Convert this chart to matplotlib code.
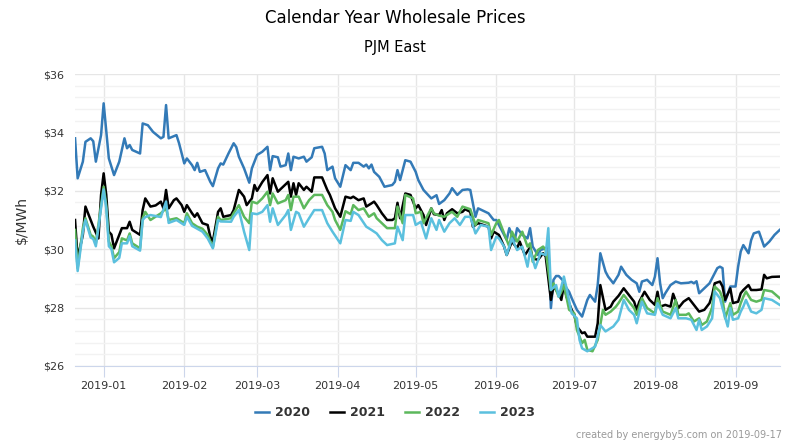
import pandas as pd
import matplotlib
matplotlib.use("Agg")
import matplotlib.pyplot as plt
import matplotlib.dates as mdates
from matplotlib.ticker import MultipleLocator, FuncFormatter

# forward prices; days counted from 2019-01-01
base_date = "2019-01-01"

days_2020 = [-11, -10, -8, -7, -5, -4, -3, -1, 0, 2, 3, 4, 6, 8, 9, 10, 11, 14, 15, 17, 19, 22, 23, 24, 25,
             28, 29, 30, 31, 32, 34, 35, 36, 37, 39, 41, 42, 44, 45, 46, 48, 50, 51, 52, 54, 56, 57, 59, 61,
             63, 64, 65, 67, 68, 70, 71, 72, 73, 75, 77, 78, 80, 81, 84, 85, 86, 88, 89, 91, 93, 95, 96, 98,
             100, 101, 102, 103, 104, 106, 108, 111, 112, 113, 114, 116, 118, 120, 121, 123, 126, 128, 129,
             131, 133, 134, 136, 138, 140, 141, 143, 144, 148, 150, 151, 154, 155, 156, 158, 159, 161, 163,
             164, 165, 167, 168, 170, 171, 172, 173, 174, 175, 177, 178, 179, 180, 182, 184, 186, 187, 189,
             190, 191, 193, 194, 196, 198, 199, 201, 203, 205, 206, 207, 209, 211, 212, 213, 214, 215, 216,
             218, 220, 222, 225, 226, 227, 228, 229, 231, 233, 236, 237, 238, 239, 241, 243, 244, 245, 246,
             248, 249, 250, 252, 254, 256, 258, 260]
price_2020 = [33.80, 32.43, 33.0, 33.68, 33.80, 33.7, 33.0, 33.91, 35.0, 33.11, 32.83, 32.54, 33.0, 33.8,
              33.46, 33.57, 33.4, 33.28, 34.31, 34.25, 34.02, 33.8, 33.85, 34.94, 33.8,
              33.91, 33.63, 33.28, 32.94, 33.11, 32.88, 32.71, 32.96, 32.65, 32.71, 32.31, 32.16, 32.77,
              32.94, 32.9, 33.28, 33.63, 33.5, 33.17, 32.77, 32.28, 32.77, 33.23, 33.34,
              33.51, 32.71, 33.19, 33.15, 32.83, 32.88, 33.28, 32.71, 33.17, 33.11, 33.17, 33.0, 33.15,
              33.46, 33.51, 33.28, 32.71, 32.83, 32.43, 32.14, 32.88, 32.71, 32.96, 32.96,
              32.83, 32.9, 32.77, 32.9, 32.65, 32.48, 32.14, 32.2, 32.31, 32.71, 32.37, 33.05, 33.0, 32.65,
              32.37, 32.03, 31.74, 31.85, 31.55,
              31.68, 31.91, 32.09, 31.86, 32.03, 32.05, 32.03, 31.11, 31.4, 31.23, 31.0, 31.0, 30.49, 30.32,
              30.72, 30.26, 30.72, 30.49, 30.37,
              30.72, 30.09, 29.8, 29.97, 30.03, 30.1, 27.98, 28.95, 29.08, 29.08, 28.89, 28.66, 28.54, 28.32,
              27.92, 27.69, 28.26, 28.43, 28.2,
              28.77, 29.86, 29.23, 29.06, 28.83, 29.12, 29.4, 29.12, 28.95, 28.83, 28.54, 28.89, 28.95, 28.77,
              29.06, 29.69, 28.83, 28.32, 28.49,
              28.77, 28.89, 28.83, 28.85, 28.88, 28.83, 28.9, 28.49, 28.66, 28.83, 29.35, 29.4, 29.35, 28.2,
              28.72, 28.72, 29.4, 29.92, 30.14,
              29.86, 30.31, 30.54, 30.6, 30.09, 30.26, 30.49, 30.66]

days_2021 = [-11, -10, -8, -7, -5, -4, -2, -1, 0, 1, 2, 3, 4, 6, 7, 9, 10, 11, 14, 15, 16, 18, 20, 22, 23, 24,
             25, 27, 28, 30, 31, 32, 34, 35, 36, 38, 40, 41, 42, 44, 45, 46, 49, 50, 52, 54, 55, 57, 58, 59,
             61, 63, 64, 65, 67, 69, 71, 72, 73, 74, 75, 77, 78, 80, 81, 84, 86, 87, 88, 89, 91, 93, 95, 96,
             98, 100, 101, 103, 104, 105, 107, 109, 111, 112, 113, 114, 116, 118, 120, 121, 123, 124, 126,
             127, 129, 130, 131, 132, 134, 136, 138, 139, 141, 142, 144, 148, 149, 150, 152, 154, 155, 157,
             159, 160, 162, 164, 165, 167, 169, 170, 172, 173, 174, 175, 176, 177, 178, 180, 181, 182, 184,
             185, 186, 189, 190, 191, 193, 195, 196, 198, 200, 202, 204, 205, 206, 208, 210, 212, 213, 214,
             216, 218, 219, 221, 223, 225, 227, 229, 231, 233, 234, 235, 237, 238, 239, 241, 242, 244, 245,
             246, 248, 249, 251, 253, 254, 255, 257, 260]
price_2021 = [31.0, 29.69, 30.49, 31.46, 31.0, 30.77, 30.37, 31.86, 32.6, 31.86, 30.6, 30.5, 30.03, 30.49,
              30.72, 30.72, 30.94, 30.66, 30.49, 31.34, 31.74, 31.46, 31.5, 31.63, 31.4, 32.03,
              31.4, 31.68, 31.74, 31.51, 31.28, 31.51, 31.23, 31.11, 31.23, 30.89, 30.83, 30.43, 30.26,
              31.28, 31.4, 31.11, 31.17, 31.34, 32.03, 31.8, 31.51, 31.74, 32.2, 32.0,
              32.3, 32.54, 31.91, 32.43, 31.97, 32.14, 32.31, 31.8, 32.26, 31.86, 32.26, 32.03, 32.14, 31.97,
              32.46, 32.46, 32.03, 31.86, 31.63, 31.4, 31.11, 31.8, 31.75, 31.8,
              31.68, 31.74, 31.46, 31.57, 31.63, 31.51, 31.23, 31.0, 31.0, 31.06, 31.59, 31.06, 31.91, 31.86,
              31.4, 31.51, 31.17, 30.83, 31.4,
              31.2, 31.17, 31.34, 31.0, 31.23, 31.37, 31.23, 31.28, 31.37, 31.28, 30.77, 30.89, 30.77, 30.37,
              30.6, 30.49, 30.09, 29.8, 30.26,
              30.03, 30.26, 29.8, 30.06, 29.69, 29.63, 29.86, 29.75, 28.26, 28.72, 28.6, 28.49, 28.26, 28.77,
              28.37, 27.92, 27.75, 27.35, 27.12,
              27.15, 27.0, 27.0, 27.46, 28.77, 27.92, 28.03, 28.2, 28.4, 28.66, 28.43, 28.2, 27.92, 28.2,
              28.54, 28.26, 28.09, 28.54, 28.03,
              28.09, 28.03, 28.47, 27.98, 28.2, 28.32, 28.09, 27.86, 27.92, 28.15, 28.43, 28.83, 28.89, 28.72,
              28.26, 28.66, 28.15, 28.2, 28.49,
              28.6, 28.77, 28.6, 28.6, 28.62, 29.12, 29.0, 29.05, 29.06]

days_2022 = [-11, -10, -8, -7, -5, -4, -3, -1, 0, 1, 2, 3, 4, 6, 7, 9, 10, 11, 14, 15, 16, 18, 22, 24, 25,
             28, 31, 32, 34, 36, 38, 40, 42, 44, 45, 49, 50, 52, 54, 56, 57, 59, 61, 63, 64, 65, 67, 70, 71,
             72, 73, 75, 77, 79, 81, 84, 86, 88, 89, 91, 93, 95, 96, 98, 100, 102, 104, 105, 107, 109, 112,
             113, 115, 116, 119, 120, 122, 123, 126, 127, 129, 131, 133, 134, 136, 138, 140, 141, 143, 144,
             148, 149, 151, 152, 154, 156, 157, 159, 161, 163, 164, 165, 167, 169, 170, 172, 173, 175, 176,
             177, 179, 181, 182, 184, 185, 186, 188, 190, 192, 193, 195, 197, 198, 200, 202, 204, 205, 207,
             209, 212, 213, 215, 218, 220, 221, 224, 225, 227, 229, 230, 232, 234, 235, 237, 238, 239, 241,
             242, 244, 245, 246, 247, 249, 251, 253, 254, 257, 260]
price_2022 = [30.66, 29.35, 30.72, 31.06, 30.49, 30.43, 30.2, 31.51, 32.14, 31.51, 30.26, 30.1, 29.69, 29.9,
              30.37, 30.3, 30.54, 30.2, 30.03, 31.06, 31.28, 31.0, 31.23, 31.4, 31.0,
              31.06, 30.89, 31.23, 30.89, 30.77, 30.7, 30.49, 30.06, 31.11, 31.0, 31.06, 31.23, 31.51, 31.11,
              30.89, 31.63, 31.57, 31.74, 31.97, 31.51, 31.91, 31.57, 31.68, 31.86,
              31.34, 31.8, 31.8, 31.4, 31.68, 31.86, 31.86, 31.51, 31.28, 31.0, 30.66, 31.3, 31.2, 31.51,
              31.34, 31.4, 31.11, 31.23, 31.06, 30.89, 30.72, 30.72,
              31.46, 30.89, 31.86, 31.74, 31.23, 31.28, 30.89, 31.4, 31.23, 31.15, 31.11, 31.23, 31.28, 31.11,
              31.46, 31.4, 31.37, 30.83, 31.0,
              30.89, 30.49, 30.89, 31.0, 30.54, 30.09, 30.6, 30.26, 30.6, 30.09, 30.2, 29.57, 29.97, 30.09,
              29.97, 28.6, 28.83, 28.37, 28.54,
              28.77, 27.92, 27.8, 27.23, 26.78, 26.89, 26.55, 26.5, 26.89, 27.92, 27.75, 27.86, 28.03, 28.15,
              28.43, 28.2, 27.98, 27.75, 28.32,
              27.98, 27.8, 28.32, 27.86, 27.75, 28.26, 27.75, 27.75, 27.8, 27.52, 27.63, 27.4, 27.52, 28.0,
              28.72, 28.55, 28.32, 27.63, 28.15,
              27.75, 27.86, 28.15, 28.37, 28.55, 28.26, 28.2, 28.26, 28.6, 28.55, 28.32]

days_2023 = [-11, -10, -8, -7, -5, -4, -3, -1, 0, 1, 2, 3, 4, 6, 7, 9, 10, 11, 14, 15, 16, 18, 22, 24, 25,
             28, 31, 32, 34, 36, 38, 40, 42, 44, 45, 49, 50, 52, 54, 56, 57, 59, 61, 63, 64, 65, 67, 70, 71,
             72, 74, 75, 77, 79, 81, 84, 86, 88, 91, 93, 95, 96, 98, 101, 103, 105, 107, 109, 112, 113, 115,
             116, 119, 120, 122, 124, 126, 128, 129, 131, 133, 135, 137, 139, 141, 143, 145, 148, 149, 151,
             152, 154, 155, 157, 159, 161, 163, 164, 166, 168, 170, 171, 172, 174, 175, 177, 178, 180, 182,
             183, 184, 186, 189, 191, 193, 196, 198, 200, 202, 204, 205, 207, 209, 212, 213, 215, 218, 220,
             221, 224, 226, 228, 229, 230, 232, 234, 235, 237, 238, 240, 241, 242, 244, 245, 246, 247, 249,
             251, 253, 254, 257, 260]
price_2023 = [30.3, 29.25, 30.6, 31.0, 30.4, 30.35, 30.1, 31.4, 32.05, 31.4, 30.1, 30.0, 29.55, 29.7, 30.2,
              30.2, 30.45, 30.1, 29.95, 31.0, 31.1, 31.17, 31.1, 31.63, 30.9,
              31.0, 30.83, 31.11, 30.8, 30.7, 30.6, 30.37, 30.03, 31.0, 30.95, 30.94, 31.11, 31.34, 30.6,
              29.97, 31.23, 31.2, 31.28, 31.51, 30.94, 31.4, 30.83, 31.17, 31.34,
              30.66, 31.28, 31.23, 30.77, 31.06, 31.34, 31.34, 30.89, 30.6, 30.2, 31.0, 30.97, 31.28, 31.17,
              30.77, 30.66, 30.54, 30.31, 30.14, 30.2, 30.77, 30.31,
              31.17, 31.17, 30.83, 30.94, 30.37, 31.06, 30.66, 31.0, 30.6, 30.89, 31.06, 30.83, 31.11, 31.11,
              30.54, 30.83, 30.77, 29.97, 30.43,
              30.37, 30.09, 29.8, 30.37, 29.97, 30.09, 29.4, 29.95, 29.35, 29.86, 29.8, 30.72, 28.6, 28.77,
              28.37, 29.06, 28.66, 27.8, 27.63,
              26.89, 26.6, 26.5, 26.66, 27.4, 27.18, 27.35, 27.58, 28.26, 27.92, 27.75, 27.46, 28.2, 27.8,
              27.75, 28.15, 27.75, 27.63, 27.98,
              27.63, 27.63, 27.58, 27.23, 27.58, 27.23, 27.35, 27.63, 28.55, 28.32, 27.98, 27.35, 27.98, 27.58,
              27.63, 27.86, 28.03, 28.26, 27.86,
              27.8, 27.92, 28.32, 28.26, 28.09]

series_names = ["2020", "2021", "2022", "2023"]
series_colors = ["#337ab7", "#000000", "#5cb85c", "#5bc0de"]
all_days = [days_2020, days_2021, days_2022, days_2023]
all_prices = [price_2020, price_2021, price_2022, price_2023]


def to_dates(days):
    return pd.Timestamp(base_date) + pd.to_timedelta(days, unit="D")


fig = plt.figure(figsize=(7.9, 4.44), dpi=100)
ax = fig.add_axes([0.095, 0.176, 0.892, 0.657])

for name, color, d, p in zip(series_names, series_colors, all_days, all_prices):
    ax.plot(to_dates(d), p, color=color, lw=1.8, label=name, zorder=3,
            solid_joinstyle="round")

ax.set_ylim(26, 36)
ax.set_xlim(to_dates([min(days_2020)])[0], to_dates([max(days_2020)])[0])

ax.yaxis.set_major_locator(MultipleLocator(2))
ax.yaxis.set_minor_locator(MultipleLocator(0.4))
ax.yaxis.set_major_formatter(FuncFormatter(lambda v, pos: f"${v:.0f}"))
ax.xaxis.set_major_locator(mdates.MonthLocator())
ax.xaxis.set_major_formatter(mdates.DateFormatter("%Y-%m"))

ax.grid(which="major", axis="both", color="#e6e6e6", lw=1.0, zorder=0)
ax.grid(which="minor", axis="y", color="#f2f2f2", lw=1.0, zorder=0)
for s in ["top", "right", "left"]:
    ax.spines[s].set_visible(False)
ax.spines["bottom"].set_color("#ccd6eb")

ax.tick_params(axis="y", which="both", length=0, labelsize=8, labelcolor="#333333", pad=8)
ax.tick_params(axis="x", length=8, color="#ccd6eb", labelsize=8, labelcolor="#333333", pad=3)
ax.set_ylabel("$/MWh", fontsize=10, color="#333333", labelpad=10)

fig.text(0.5, 0.959, "Calendar Year Wholesale Prices", ha="center", va="center",
         fontsize=12, color="#000000")
fig.text(0.5, 0.894, "PJM East", ha="center", va="center", fontsize=10.5, color="#000000")

leg = fig.legend(loc="center", bbox_to_anchor=(0.5, 0.07), ncol=4, frameon=False,
                 handlelength=1.1, handletextpad=0.5, columnspacing=1.6,
                 prop={"size": 9, "weight": "bold"})
for t in leg.get_texts():
    t.set_color("#333333")

fig.text(0.99, 0.02, "created by energyby5.com on 2019-09-17", ha="right", va="center",
         fontsize=7, color="#999999")

fig.savefig("out.png", dpi=100)
